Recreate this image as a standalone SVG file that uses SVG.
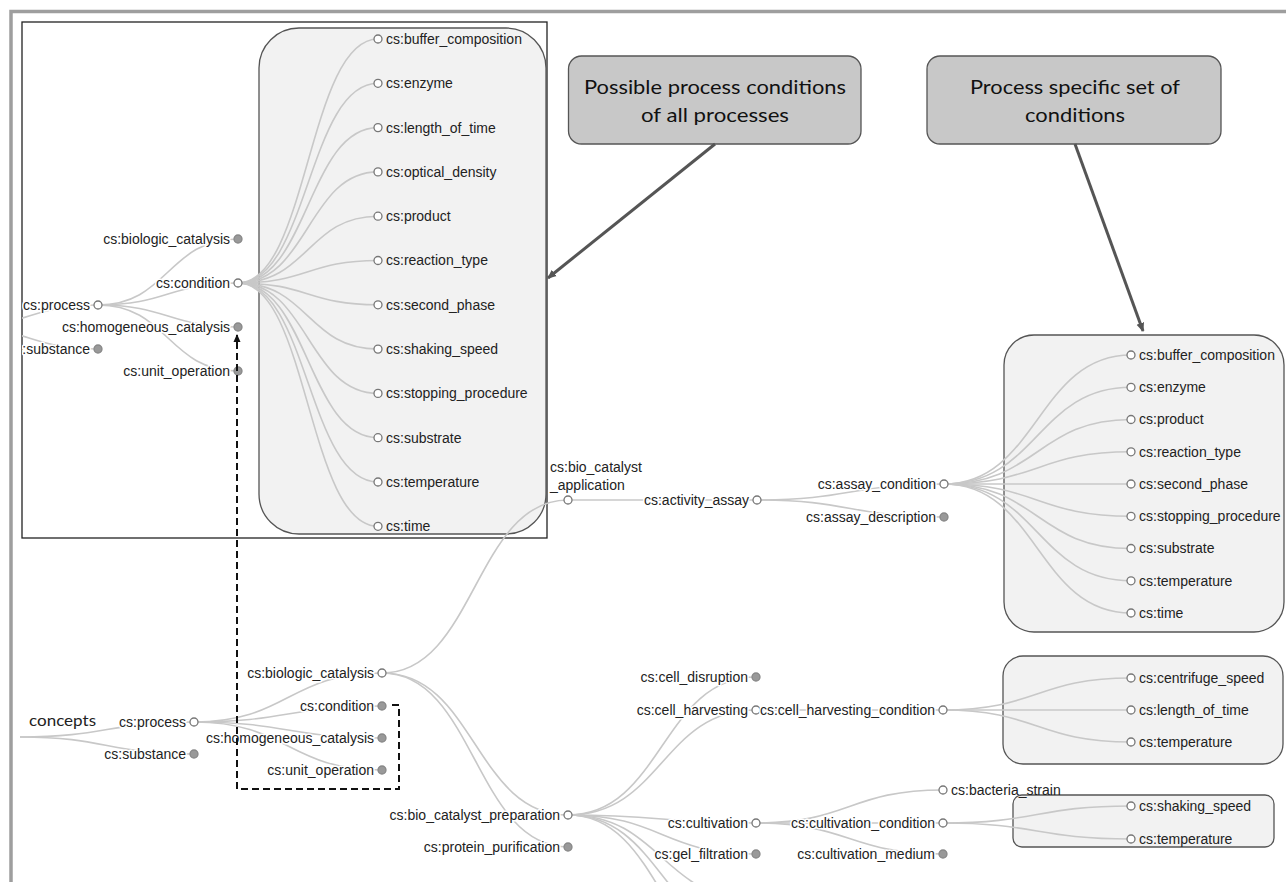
<svg xmlns="http://www.w3.org/2000/svg" width="1286" height="882" viewBox="0 0 1286 882">
<style>
.lk{fill:none;stroke:#c8c8c8;stroke-width:1.6}
.o{fill:#fff;stroke:#777;stroke-width:1.3}
.f{fill:#999;stroke:#888;stroke-width:1.3}
text{font-family:"Liberation Sans",Arial,sans-serif;font-size:14px;fill:#222}
.e{text-anchor:end;stroke:#fff;stroke-width:3;paint-order:stroke;stroke-linejoin:round}
.s{text-anchor:start}
.box{fill:#f2f2f2;stroke:#555;stroke-width:1.3}
.call{fill:#c8c8c8;stroke:#555;stroke-width:1.3}
.ct{font-family:Lato,"Open Sans",sans-serif;font-size:20px;fill:#111;text-anchor:middle}
.ar{fill:none;stroke:#555;stroke-width:3}
</style>
<defs>
<marker id="ah" markerWidth="10" markerHeight="10" refX="8" refY="5" orient="auto" markerUnits="userSpaceOnUse" viewBox="0 0 10 10"><path d="M0,1 L9,5 L0,9 z" fill="#555"/></marker>
<marker id="ahb" markerWidth="8" markerHeight="8" refX="7" refY="4" orient="auto" markerUnits="userSpaceOnUse" viewBox="0 0 8 8"><path d="M0,0.5 L8,4 L0,7.5 z" fill="#111"/></marker>
<clipPath id="clipTop"><rect x="22" y="22" width="525" height="516"/></clipPath>
</defs>

<rect id="outer-frame" x="11" y="11.5" width="1290" height="900" fill="#fff" stroke="#9e9e9e" stroke-width="3.5"/>

<!-- Top-left framed detail -->
<g id="top-frame">
<rect x="22" y="22" width="525" height="516" fill="#fff" stroke="#222" stroke-width="1.3"/>
<rect class="box" x="259" y="28" width="287" height="506" rx="40"/>
</g>

<g id="top-links" clip-path="url(#clipTop)">
<path class="lk" d="M-40,327C29,327 29,305 98,305"/>
<path class="lk" d="M-40,327C29,327 29,349 98,349"/>
<path class="lk" d="M98,305C168,305 168,239 238,239"/>
<path class="lk" d="M98,305C168,305 168,283 238,283"/>
<path class="lk" d="M98,305C168,305 168,327 238,327"/>
<path class="lk" d="M98,305C168,305 168,371 238,371"/>
<path class="lk" d="M238,283C308,283 308,39 378,39"/>
<path class="lk" d="M238,283C308,283 308,83.3 378,83.3"/>
<path class="lk" d="M238,283C308,283 308,127.6 378,127.6"/>
<path class="lk" d="M238,283C308,283 308,171.9 378,171.9"/>
<path class="lk" d="M238,283C308,283 308,216.2 378,216.2"/>
<path class="lk" d="M238,283C308,283 308,260.5 378,260.5"/>
<path class="lk" d="M238,283C308,283 308,304.8 378,304.8"/>
<path class="lk" d="M238,283C308,283 308,349.1 378,349.1"/>
<path class="lk" d="M238,283C308,283 308,393.4 378,393.4"/>
<path class="lk" d="M238,283C308,283 308,437.7 378,437.7"/>
<path class="lk" d="M238,283C308,283 308,482 378,482"/>
<path class="lk" d="M238,283C308,283 308,526.3 378,526.3"/>
</g>

<g id="top-nodes" clip-path="url(#clipTop)">
<g id="t-process"><circle class="o" cx="98" cy="305" r="4"/><text class="e" x="90" y="305" dy="0.35em">cs:process</text></g>
<g id="t-substance"><circle class="f" cx="98" cy="349" r="4"/><text class="e" x="90" y="349" dy="0.35em">cs:substance</text></g>
<g id="t-biologic_catalysis"><circle class="f" cx="238" cy="239" r="4"/><text class="e" x="230" y="239" dy="0.35em">cs:biologic_catalysis</text></g>
<g id="t-condition"><circle class="o" cx="238" cy="283" r="4"/><text class="e" x="230" y="283" dy="0.35em">cs:condition</text></g>
<g id="t-homogeneous_catalysis"><circle class="f" cx="238" cy="327" r="4"/><text class="e" x="230" y="327" dy="0.35em">cs:homogeneous_catalysis</text></g>
<g id="t-unit_operation"><circle class="f" cx="238" cy="371" r="4"/><text class="e" x="230" y="371" dy="0.35em">cs:unit_operation</text></g>
<g id="t-buffer_composition"><circle class="o" cx="378" cy="39" r="4"/><text class="s" x="386" y="39" dy="0.35em">cs:buffer_composition</text></g>
<g id="t-enzyme"><circle class="o" cx="378" cy="83.3" r="4"/><text class="s" x="386" y="83.3" dy="0.35em">cs:enzyme</text></g>
<g id="t-length_of_time"><circle class="o" cx="378" cy="127.6" r="4"/><text class="s" x="386" y="127.6" dy="0.35em">cs:length_of_time</text></g>
<g id="t-optical_density"><circle class="o" cx="378" cy="171.9" r="4"/><text class="s" x="386" y="171.9" dy="0.35em">cs:optical_density</text></g>
<g id="t-product"><circle class="o" cx="378" cy="216.2" r="4"/><text class="s" x="386" y="216.2" dy="0.35em">cs:product</text></g>
<g id="t-reaction_type"><circle class="o" cx="378" cy="260.5" r="4"/><text class="s" x="386" y="260.5" dy="0.35em">cs:reaction_type</text></g>
<g id="t-second_phase"><circle class="o" cx="378" cy="304.8" r="4"/><text class="s" x="386" y="304.8" dy="0.35em">cs:second_phase</text></g>
<g id="t-shaking_speed"><circle class="o" cx="378" cy="349.1" r="4"/><text class="s" x="386" y="349.1" dy="0.35em">cs:shaking_speed</text></g>
<g id="t-stopping_procedure"><circle class="o" cx="378" cy="393.4" r="4"/><text class="s" x="386" y="393.4" dy="0.35em">cs:stopping_procedure</text></g>
<g id="t-substrate"><circle class="o" cx="378" cy="437.7" r="4"/><text class="s" x="386" y="437.7" dy="0.35em">cs:substrate</text></g>
<g id="t-temperature"><circle class="o" cx="378" cy="482" r="4"/><text class="s" x="386" y="482" dy="0.35em">cs:temperature</text></g>
<g id="t-time"><circle class="o" cx="378" cy="526.3" r="4"/><text class="s" x="386" y="526.3" dy="0.35em">cs:time</text></g>
</g>

<!-- Right boxes -->
<g id="boxes">
<rect class="box" x="1004" y="335" width="280" height="297" rx="30"/>
<rect class="box" x="1003" y="656" width="280" height="108" rx="20"/>
<rect class="box" x="1013" y="795" width="261" height="52" rx="9"/>
</g>

<!-- Callouts -->
<g id="callout-all">
<rect class="call" x="568.5" y="56" width="292.5" height="88" rx="13"/>
<text class="ct" x="715" y="94" textLength="262" lengthAdjust="spacingAndGlyphs">Possible process conditions</text>
<text class="ct" x="715" y="122" textLength="148" lengthAdjust="spacingAndGlyphs">of all processes</text>
</g>
<g id="callout-specific">
<rect class="call" x="927" y="56" width="294" height="88" rx="13"/>
<text class="ct" x="1075" y="94" textLength="210" lengthAdjust="spacingAndGlyphs">Process specific set of</text>
<text class="ct" x="1075" y="122" textLength="100" lengthAdjust="spacingAndGlyphs">conditions</text>
</g>

<!-- Bottom tree links -->
<g id="links">
<path class="lk" d="M20,737C107,737 107,722 194,722"/>
<path class="lk" d="M20,737C107,737 107,754 194,754"/>
<path class="lk" d="M194,722C288,722 288,673 382,673"/>
<path class="lk" d="M194,722C288,722 288,706 382,706"/>
<path class="lk" d="M194,722C288,722 288,738 382,738"/>
<path class="lk" d="M194,722C288,722 288,770 382,770"/>
<path class="lk" d="M382,673C475,673 475,500 568,500"/>
<path class="lk" d="M382,673C475,673 475,815 568,815"/>
<path class="lk" d="M382,673C475,673 475,847 568,847"/>
<path class="lk" d="M568,500H757"/>
<path class="lk" d="M757,500C850.5,500 850.5,484 944,484"/>
<path class="lk" d="M757,500C850.5,500 850.5,517 944,517"/>
<path class="lk" d="M944,484C1037.5,484 1037.5,355 1131,355"/>
<path class="lk" d="M944,484C1037.5,484 1037.5,387.3 1131,387.3"/>
<path class="lk" d="M944,484C1037.5,484 1037.5,419.5 1131,419.5"/>
<path class="lk" d="M944,484C1037.5,484 1037.5,451.8 1131,451.8"/>
<path class="lk" d="M944,484C1037.5,484 1037.5,484 1131,484"/>
<path class="lk" d="M944,484C1037.5,484 1037.5,516.3 1131,516.3"/>
<path class="lk" d="M944,484C1037.5,484 1037.5,548.5 1131,548.5"/>
<path class="lk" d="M944,484C1037.5,484 1037.5,580.8 1131,580.8"/>
<path class="lk" d="M944,484C1037.5,484 1037.5,613 1131,613"/>
<path class="lk" d="M568,815C662,815 662,677 756,677"/>
<path class="lk" d="M568,815C662,815 662,710 756,710"/>
<path class="lk" d="M568,815C662,815 662,823 756,823"/>
<path class="lk" d="M568,815C662,815 662,854 756,854"/>
<path class="lk" d="M568,815C662,815 662,900 756,900"/>
<path class="lk" d="M568,815C662,815 662,935 756,935"/>
<path class="lk" d="M568,815C662,815 662,970 756,970"/>
<path class="lk" d="M756,710H943"/>
<path class="lk" d="M943,710C1037,710 1037,678 1131,678"/>
<path class="lk" d="M943,710H1131"/>
<path class="lk" d="M943,710C1037,710 1037,742 1131,742"/>
<path class="lk" d="M756,823C849.5,823 849.5,790 943,790"/>
<path class="lk" d="M756,823H943"/>
<path class="lk" d="M756,823C849.5,823 849.5,854 943,854"/>
<path class="lk" d="M943,823C1037,823 1037,806 1131,806"/>
<path class="lk" d="M943,823C1037,823 1037,839 1131,839"/>
</g>

<!-- Bottom tree nodes -->
<g id="n-concepts"><text x="29" y="726" style="font-family:Lato,'Open Sans',sans-serif;font-size:16px" textLength="67" lengthAdjust="spacingAndGlyphs">concepts</text></g>
<g id="n-process"><circle class="o" cx="194" cy="722" r="4"/><text class="e" x="186" y="722" dy="0.35em">cs:process</text></g>
<g id="n-substance"><circle class="f" cx="194" cy="754" r="4"/><text class="e" x="186" y="754" dy="0.35em">cs:substance</text></g>
<g id="n-biologic_catalysis"><circle class="o" cx="382" cy="673" r="4"/><text class="e" x="374" y="673" dy="0.35em">cs:biologic_catalysis</text></g>
<g id="n-condition"><circle class="f" cx="382" cy="706" r="4"/><text class="e" x="374" y="706" dy="0.35em">cs:condition</text></g>
<g id="n-homogeneous_catalysis"><circle class="f" cx="382" cy="738" r="4"/><text class="e" x="374" y="738" dy="0.35em">cs:homogeneous_catalysis</text></g>
<g id="n-unit_operation"><circle class="f" cx="382" cy="770" r="4"/><text class="e" x="374" y="770" dy="0.35em">cs:unit_operation</text></g>
<g id="n-bio_catalyst_application"><circle class="o" cx="568" cy="500" r="4"/><text x="550" y="472">cs:bio_catalyst</text><text x="550" y="490">_application</text></g>
<g id="n-bio_catalyst_preparation"><circle class="o" cx="568" cy="815" r="4"/><text class="e" x="560" y="815" dy="0.35em">cs:bio_catalyst_preparation</text></g>
<g id="n-protein_purification"><circle class="f" cx="568" cy="847" r="4"/><text class="e" x="560" y="847" dy="0.35em">cs:protein_purification</text></g>
<g id="n-activity_assay"><circle class="o" cx="757" cy="500" r="4"/><text class="e" x="749" y="500" dy="0.35em">cs:activity_assay</text></g>
<g id="n-assay_condition"><circle class="o" cx="944" cy="484" r="4"/><text class="e" x="936" y="484" dy="0.35em">cs:assay_condition</text></g>
<g id="n-assay_description"><circle class="f" cx="944" cy="517" r="4"/><text class="e" x="936" y="517" dy="0.35em">cs:assay_description</text></g>
<g id="n-ac-buffer_composition"><circle class="o" cx="1131" cy="355" r="4"/><text class="s" x="1139" y="355" dy="0.35em">cs:buffer_composition</text></g>
<g id="n-ac-enzyme"><circle class="o" cx="1131" cy="387.3" r="4"/><text class="s" x="1139" y="387.3" dy="0.35em">cs:enzyme</text></g>
<g id="n-ac-product"><circle class="o" cx="1131" cy="419.5" r="4"/><text class="s" x="1139" y="419.5" dy="0.35em">cs:product</text></g>
<g id="n-ac-reaction_type"><circle class="o" cx="1131" cy="451.8" r="4"/><text class="s" x="1139" y="451.8" dy="0.35em">cs:reaction_type</text></g>
<g id="n-ac-second_phase"><circle class="o" cx="1131" cy="484" r="4"/><text class="s" x="1139" y="484" dy="0.35em">cs:second_phase</text></g>
<g id="n-ac-stopping_procedure"><circle class="o" cx="1131" cy="516.3" r="4"/><text class="s" x="1139" y="516.3" dy="0.35em">cs:stopping_procedure</text></g>
<g id="n-ac-substrate"><circle class="o" cx="1131" cy="548.5" r="4"/><text class="s" x="1139" y="548.5" dy="0.35em">cs:substrate</text></g>
<g id="n-ac-temperature"><circle class="o" cx="1131" cy="580.8" r="4"/><text class="s" x="1139" y="580.8" dy="0.35em">cs:temperature</text></g>
<g id="n-ac-time"><circle class="o" cx="1131" cy="613" r="4"/><text class="s" x="1139" y="613" dy="0.35em">cs:time</text></g>
<g id="n-cell_disruption"><circle class="f" cx="756" cy="677" r="4"/><text class="e" x="748" y="677" dy="0.35em">cs:cell_disruption</text></g>
<g id="n-cell_harvesting"><circle class="o" cx="756" cy="710" r="4"/><text class="e" x="748" y="710" dy="0.35em">cs:cell_harvesting</text></g>
<g id="n-cultivation"><circle class="o" cx="756" cy="823" r="4"/><text class="e" x="748" y="823" dy="0.35em">cs:cultivation</text></g>
<g id="n-gel_filtration"><circle class="f" cx="756" cy="854" r="4"/><text class="e" x="748" y="854" dy="0.35em">cs:gel_filtration</text></g>
<g id="n-cell_harvesting_condition"><circle class="o" cx="943" cy="710" r="4"/><text class="e" x="935" y="710" dy="0.35em">cs:cell_harvesting_condition</text></g>
<g id="n-chc-centrifuge_speed"><circle class="o" cx="1131" cy="678" r="4"/><text class="s" x="1139" y="678" dy="0.35em">cs:centrifuge_speed</text></g>
<g id="n-chc-length_of_time"><circle class="o" cx="1131" cy="710" r="4"/><text class="s" x="1139" y="710" dy="0.35em">cs:length_of_time</text></g>
<g id="n-chc-temperature"><circle class="o" cx="1131" cy="742" r="4"/><text class="s" x="1139" y="742" dy="0.35em">cs:temperature</text></g>
<g id="n-bacteria_strain"><circle class="o" cx="943" cy="790" r="4"/><text class="s" x="951" y="790" dy="0.35em">cs:bacteria_strain</text></g>
<g id="n-cultivation_condition"><circle class="o" cx="943" cy="823" r="4"/><text class="e" x="935" y="823" dy="0.35em">cs:cultivation_condition</text></g>
<g id="n-cultivation_medium"><circle class="f" cx="943" cy="854" r="4"/><text class="e" x="935" y="854" dy="0.35em">cs:cultivation_medium</text></g>
<g id="n-cc-shaking_speed"><circle class="o" cx="1131" cy="806" r="4"/><text class="s" x="1139" y="806" dy="0.35em">cs:shaking_speed</text></g>
<g id="n-cc-temperature"><circle class="o" cx="1131" cy="839" r="4"/><text class="s" x="1139" y="839" dy="0.35em">cs:temperature</text></g>

<!-- Annotation connectors -->
<g id="connectors">
<path class="ar" d="M715,144L548,278" marker-end="url(#ah)"/>
<path class="ar" d="M1075,144L1143,331" marker-end="url(#ah)"/>
<path d="M392,705H399V789H237V335" fill="none" stroke="#111" stroke-width="2" stroke-dasharray="7,4" marker-end="url(#ahb)"/>
</g>
</svg>
